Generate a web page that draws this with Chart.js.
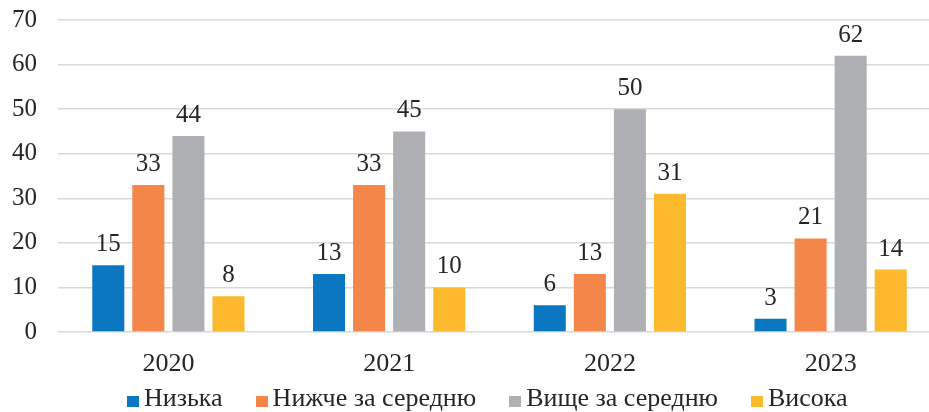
<!DOCTYPE html>
<html>
<head>
<meta charset="utf-8">
<script src="https://cdn.jsdelivr.net/npm/chart.js@4/dist/chart.umd.min.js"></script>
<style>
  html, body { margin: 0; padding: 0; width: 929px; height: 412px; overflow: hidden; background: #fff; }
  #wrap { position: absolute; left: 0; top: 0; width: 941px; height: 412px; }
  #legend { position: absolute; left: 127px; top: 385px; display: flex; font-family: "Liberation Serif", "Times New Roman", serif; font-size: 26px; line-height: 26px; color: #262626; white-space: nowrap; }
  .item { display: flex; align-items: center; margin-right: 33px; }
  .sw { width: 12px; height: 11px; margin-right: 5px; position: relative; top: 3px; }
</style>
</head>
<body>
<div id="wrap"><canvas id="c"></canvas></div>
<div id="legend"></div>
<script>
const categories = ["2020", "2021", "2022", "2023"];
const seriesNames = ["Низька", "Нижче за середню", "Вище за середню", "Висока"];
const low = [15, 13, 6, 3];
const belowAvg = [33, 33, 13, 21];
const aboveAvg = [44, 45, 50, 62];
const high = [8, 10, 31, 14];
const colors = ["#0B77C0", "#F5864A", "#AFB0B3", "#FDB92D"];
const yTicks = [0, 10, 20, 30, 40, 50, 60, 70];

const FONT = '"Liberation Serif", "Times New Roman", serif';
const TEXT = "#262626";

const values = [low, belowAvg, aboveAvg, high];
const datasets = values.map((v, i) => ({
  label: seriesNames[i],
  data: v,
  backgroundColor: colors[i],
  borderWidth: 0,
  categoryPercentage: 0.726,
  barPercentage: 0.8
}));

const valueLabels = {
  id: "valueLabels",
  afterDatasetsDraw(chart) {
    const ctx = chart.ctx;
    ctx.save();
    ctx.font = "25px " + FONT;
    ctx.fillStyle = TEXT;
    ctx.textAlign = "center";
    ctx.textBaseline = "alphabetic";
    chart.data.datasets.forEach((ds, di) => {
      const meta = chart.getDatasetMeta(di);
      meta.data.forEach((el, i) => {
        ctx.fillText(String(ds.data[i]), el.x, el.y - 14);
      });
    });
    ctx.restore();
  }
};

new Chart(document.getElementById("c"), {
  type: "bar",
  data: { labels: categories, datasets },
  options: {
    responsive: true,
    maintainAspectRatio: false,
    animation: false,
    layout: { padding: { top: 20, right: 0, left: 0, bottom: 0 } },
    plugins: { legend: { display: false }, tooltip: { enabled: false } },
    scales: {
      x: {
        grid: { display: false, drawTicks: false },
        border: { display: false },
        ticks: { font: { family: FONT, size: 26 }, color: TEXT, padding: 17 },
        afterFit(s) { s.height = 80; s.paddingLeft = 0; s.paddingRight = 0; }
      },
      y: {
        min: 0, max: 70,
        afterBuildTicks(s) { s.ticks = yTicks.map(v => ({ value: v })); },
        grid: { color: "#d9d9d9", lineWidth: 1.5, drawTicks: false },
        border: { display: false },
        ticks: { font: { family: FONT, size: 25 }, color: TEXT, padding: 21 },
        afterFit(s) { s.width = 58; s.paddingTop = 0; s.paddingBottom = 0; }
      }
    }
  },
  plugins: [valueLabels]
});

const lg = document.getElementById("legend");
seriesNames.forEach((n, i) => {
  const it = document.createElement("div");
  it.className = "item";
  const sw = document.createElement("span");
  sw.className = "sw";
  sw.style.background = colors[i];
  const tx = document.createElement("span");
  tx.textContent = n;
  it.appendChild(sw);
  it.appendChild(tx);
  lg.appendChild(it);
});
</script>
</body>
</html>
